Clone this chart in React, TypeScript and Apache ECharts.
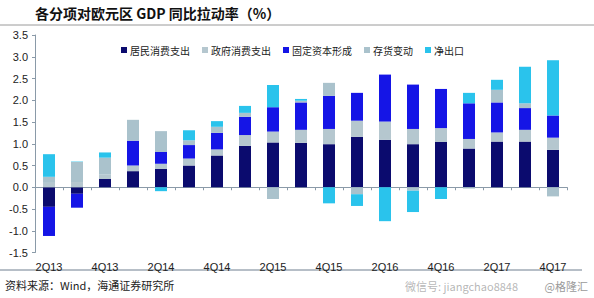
import React, { useEffect, useRef } from "react";
import * as echarts from "echarts";

// Quarterly contributions to euro area GDP growth (percentage points, y/y)
const categories = [
  "2Q13", "3Q13", "4Q13", "1Q14", "2Q14", "3Q14", "4Q14", "1Q15", "2Q15", "3Q15",
  "4Q15", "1Q16", "2Q16", "3Q16", "4Q16", "1Q17", "2Q17", "3Q17", "4Q17",
];
const household = [-0.45, -0.15, 0.19, 0.37, 0.42, 0.5, 0.73, 0.95, 1.03, 1.02, 0.99, 1.16, 1.09, 0.99, 1.04, 0.89, 1.05, 1.05, 0.86];
const government = [0.1, 0.12, 0.1, 0.13, 0.12, 0.16, 0.14, 0.25, 0.25, 0.3, 0.35, 0.37, 0.42, 0.35, 0.32, 0.22, 0.21, 0.27, 0.28];
const fixedCapital = [-0.67, -0.32, 0, 0.57, 0.27, 0.31, 0.38, 0.42, 0.56, 0.63, 0.76, 0.64, 1.08, 1.02, 0.9, 0.82, 0.69, 0.5, 0.51];
const inventory = [0.14, 0.46, 0.39, 0.48, 0.48, 0.11, 0.14, 0.09, -0.27, 0.04, 0.3, -0.16, 0, -0.08, 0, -0.03, 0.29, 0.11, -0.21];
const netExports = [0.52, 0.01, 0.12, 0, -0.09, 0.23, 0.13, 0.16, 0.51, 0.04, -0.37, -0.27, -0.78, -0.49, -0.27, 0.24, 0.23, 0.84, 1.27];

const seriesNames = ["居民消费支出", "政府消费支出", "固定资本形成", "存货变动", "净出口"];
const seriesColors = ["#0b0b6e", "#b5c7cf", "#1515e6", "#aac2cc", "#2ac3ec"];
const seriesValues = [household, government, fixedCapital, inventory, netExports];

const title = "各分项对欧元区 GDP 同比拉动率（%）";
const sourceNote = "资料来源：Wind，海通证券研究所";

const latin = "'Liberation Sans', Arial, sans-serif";
const cjk = "'Noto Sans CJK SC', 'Liberation Sans', sans-serif";

export default function App() {
  const ref = useRef<HTMLDivElement>(null);

  useEffect(() => {
    if (!ref.current) return;
    const chart = echarts.init(ref.current, null, { renderer: "svg" });

    chart.setOption({
      animation: false,
      backgroundColor: "#ffffff",
      grid: { left: 35, right: 27, top: 35, bottom: 45.5, containLabel: false },
      legend: {
        left: 116,
        top: 40,
        itemWidth: 6,
        itemHeight: 6,
        itemGap: 12,
        icon: "rect",
        textStyle: { fontFamily: cjk, fontSize: 10, color: "#222", padding: [0, 0, 0, -2] },
        data: seriesNames,
      },
      xAxis: [
        {
          type: "category",
          data: categories,
          axisLine: { onZero: true, lineStyle: { color: "#8a9aa8", width: 1 } },
          axisTick: { show: true, length: 3, interval: 0, lineStyle: { color: "#8a9aa8" } },
          axisLabel: { show: false },
          splitLine: { show: false },
        },
        {
          type: "category",
          data: categories,
          position: "bottom",
          axisLine: { show: false, onZero: false },
          axisTick: { show: false },
          axisLabel: {
            interval: 1,
            margin: 9,
            fontFamily: latin,
            fontSize: 11,
            color: "#222",
          },
          splitLine: { show: false },
        },
      ],
      yAxis: {
        type: "value",
        min: -1.5,
        max: 3.5,
        interval: 0.5,
        axisLine: { show: true, lineStyle: { color: "#8a9aa8" } },
        axisTick: { show: true, length: 3, lineStyle: { color: "#8a9aa8" } },
        splitLine: { show: false },
        axisLabel: {
          margin: 7,
          fontFamily: latin,
          fontSize: 11,
          color: "#222",
          formatter: (v: number) => v.toFixed(1),
        },
      },
      series: seriesNames.map((name, i) => ({
        name,
        type: "bar",
        stack: "gdp",
        xAxisIndex: 0,
        barWidth: 12,
        itemStyle: { color: seriesColors[i] },
        data: seriesValues[i],
      })),
      graphic: [
        {
          type: "text",
          x: 35,
          y: 6,
          style: {
            text: title,
            font: `bold 14px ${cjk}`,
            fill: "#111",
            verticalAlign: "top",
          },
        },
        {
          type: "line",
          shape: { x1: 0, y1: 25, x2: 594, y2: 25 },
          style: { stroke: "#9a9a9a", lineWidth: 1 },
        },
        {
          type: "line",
          shape: { x1: 0, y1: 270, x2: 582, y2: 270 },
          style: { stroke: "#6f7f8f", lineWidth: 1 },
        },
        {
          type: "text",
          x: 5,
          y: 279,
          style: {
            text: sourceNote,
            font: `11px ${cjk}`,
            fill: "#222",
            verticalAlign: "top",
          },
        },
        {
          type: "text",
          x: 588,
          y: 280,
          style: {
            text: "@格隆汇",
            font: `11px ${cjk}`,
            fill: "#9a9a9a",
            align: "right",
            verticalAlign: "top",
          },
        },
        {
          type: "text",
          x: 405,
          y: 280,
          style: {
            text: "微信号: jiangchao8848",
            font: `11px ${cjk}`,
            fill: "rgba(120,120,120,0.55)",
            verticalAlign: "top",
          },
        },
      ],
    });

    return () => chart.dispose();
  }, []);

  return (
    <div
      ref={ref}
      style={{ position: "absolute", left: 0, top: 0, width: 594, height: 298 }}
    />
  );
}
